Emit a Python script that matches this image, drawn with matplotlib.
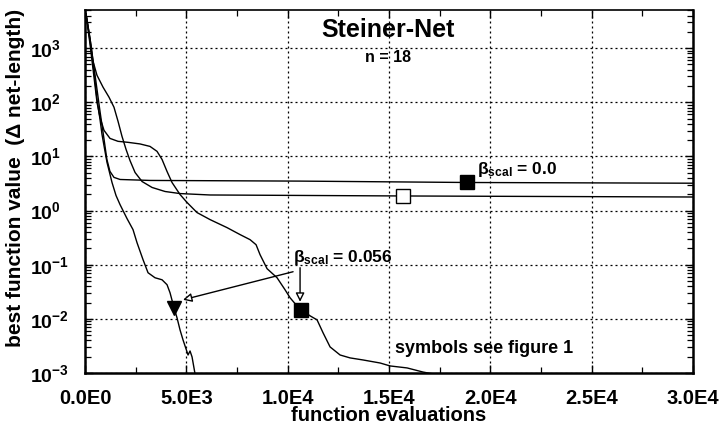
import matplotlib
matplotlib.use("Agg")
import matplotlib.pyplot as plt
from matplotlib.ticker import FixedLocator, FixedFormatter, LogLocator, NullFormatter

plt.rcParams['font.family'] = ['Liberation Sans', 'DejaVu Sans']
plt.rcParams['font.weight'] = 'bold'
plt.rcParams['mathtext.fontset'] = 'custom'
plt.rcParams['mathtext.rm'] = 'Liberation Sans:bold'
plt.rcParams['mathtext.bf'] = 'Liberation Sans:bold'
plt.rcParams['mathtext.it'] = 'Liberation Sans:bold'
plt.rcParams['mathtext.default'] = 'rm'

# ---------------- data ----------------
# curve with plateau ~3.5 (beta_scal = 0.0, filled square)
c1_x = [50, 250, 490, 740, 940, 1080, 1230, 1430, 1730, 3210, 10610, 18850, 30000]
c1_y = [4270, 1480, 330, 68, 20.6, 8.8, 5.3, 4.1, 3.75, 3.6, 3.5, 3.3, 3.2]

# curve with plateau ~2 (open square)
c2_x = [50, 250, 395, 590, 890, 1185, 1430, 1630, 1825, 2025, 2220, 2470, 2815,
        3310, 3950, 4690, 6170, 15700, 30000]
c2_y = [4270, 1480, 575, 316, 190, 124, 81, 44.5, 23.5, 13.5, 8.4, 5.05, 3.44,
        2.67, 2.25, 2.06, 1.94, 1.86, 1.78]

# curve with intermediate plateau ~15 (beta_scal = 0.056, filled square)
c3_x = [49, 247, 444, 592, 740, 938, 1234, 1629, 2122, 2715, 3208, 3554, 3801,
        4048, 4294, 4689, 5035, 5528, 6170, 7009, 7651, 8145, 8441, 8638, 8984,
        9477, 9872, 10119, 10415, 10662, 11106, 11451, 11748, 12093, 12587,
        13080, 13722, 14561, 15055, 15894, 16684, 17177]
c3_y = [4270, 1186, 290, 100, 52.7, 30.3, 21.5, 19.0, 18.2, 17.0, 15.3, 12.4, 8.8,
        5.27, 3.30, 1.98, 1.41, 0.918, 0.681, 0.484, 0.36, 0.29, 0.234, 0.153,
        0.0844, 0.0574, 0.0344, 0.0245, 0.01815, 0.01468, 0.01137, 0.00957,
        0.00551, 0.00303, 0.00215, 0.0019, 0.00174, 0.00153, 0.00135, 0.00124,
        0.00104, 0.00096]

# fastest curve (beta_scal = 0.056, filled triangle)
c4_x = [49, 247, 444, 592, 740, 839, 987, 1086, 1185, 1333, 1530, 1728, 1925,
        2073, 2369, 2567, 2863, 3110, 3455, 3801, 4048, 4196, 4393, 4541, 4689,
        4837, 5035, 5084, 5183, 5282, 5430]
c4_y = [4270, 1349, 375, 114, 48.4, 25.5, 12.4, 7.74, 5.51, 3.30, 1.90, 1.29,
        0.918, 0.711, 0.445, 0.255, 0.124, 0.0711, 0.0574, 0.0527, 0.0427,
        0.0303, 0.016, 0.01045, 0.00625, 0.00408, 0.00245, 0.00215, 0.00255,
        0.00198, 0.00096]

# markers
sq_filled_x = [18850, 10662]
sq_filled_y = [3.3, 0.01468]
sq_open_x = [15700]
sq_open_y = [1.86]
tri_x = [4393]
tri_y = [0.016]

xticks = [0, 5000, 10000, 15000, 20000, 25000, 30000]
xtick_labels = ["0.0E0", "5.0E3", "1.0E4", "1.5E4", "2.0E4", "2.5E4", "3.0E4"]
xminor = [2500, 7500, 12500, 17500, 22500, 27500]
yticks = [1e-3, 1e-2, 1e-1, 1e0, 1e1, 1e2, 1e3]
ytick_labels = [r"$10^{-3}$", r"$10^{-2}$", r"$10^{-1}$", r"$10^{0}$",
                r"$10^{1}$", r"$10^{2}$", r"$10^{3}$"]

# ---------------- figure ----------------
fig = plt.figure(figsize=(7.21, 4.28), dpi=100)
ax = fig.add_axes([85/721, 1-373/428, (693-85)/721, (373-10)/428])
ax.set_yscale('log')
ax.set_xlim(0, 30000)
ax.set_ylim(1e-3, 5060)

for xs, ys in [(c1_x, c1_y), (c2_x, c2_y), (c3_x, c3_y), (c4_x, c4_y)]:
    ax.plot(xs, ys, color='black', lw=1.0, solid_joinstyle='round', zorder=3)

ax.plot(sq_filled_x, sq_filled_y, ls='none', marker='s', ms=9.5, mfc='black',
        mec='black', zorder=5)
ax.plot(sq_open_x, sq_open_y, ls='none', marker='s', ms=9.5, mfc='white',
        mec='black', mew=1.0, zorder=5)
ax.plot(tri_x, tri_y, ls='none', marker='v', ms=10, mfc='black', mec='black',
        zorder=5)

# ticks
ax.xaxis.set_major_locator(FixedLocator(xticks))
ax.xaxis.set_major_formatter(FixedFormatter(xtick_labels))
ax.xaxis.set_minor_locator(FixedLocator(xminor))
ax.yaxis.set_major_locator(FixedLocator(yticks))
ax.yaxis.set_major_formatter(FixedFormatter(ytick_labels))
ax.yaxis.set_minor_locator(LogLocator(base=10, subs=range(2, 10), numticks=20))
ax.yaxis.set_minor_formatter(NullFormatter())

ax.tick_params(which='both', direction='in', top=True, right=True, color='black')
ax.tick_params(which='major', length=6, width=1.0)
ax.tick_params(which='minor', length=4, width=0.9)
ax.tick_params(axis='x', which='major', pad=11.8, labelsize=14.5)
ax.tick_params(axis='y', which='major', pad=39.5, labelsize=14)
for lab in ax.get_yticklabels():
    lab.set_horizontalalignment('left')
for lab in ax.get_xticklabels() + ax.get_yticklabels():
    lab.set_fontweight('bold')

for s in ['left', 'bottom', 'right']:
    ax.spines[s].set_linewidth(1.8)
ax.spines['top'].set_linewidth(1.2)

ax.grid(True, which='major', color='black', lw=0.9, ls=(0, (1.6, 2.4)))
ax.set_axisbelow(True)

# texts
ax.text(14956, 1600, "Steiner-Net", ha='center', va='baseline', fontsize=18,
        fontweight='bold')
ax.text(14956, 550, "n = 18", ha='center', va='baseline', fontsize=11.5,
        fontweight='bold')
ax.text(19350, 4.64, r"$\beta_{scal}$ = 0.0", ha='left', va='baseline',
        fontsize=12.5, fontweight='bold')
ax.text(10267, 0.1137, r"$\beta_{scal}$ = 0.056", ha='left', va='baseline',
        fontsize=12.5, fontweight='bold')
ax.text(15302, 0.00235, "symbols see figure 1", ha='left', va='baseline',
        fontsize=13, fontweight='bold')

arrow = dict(arrowstyle='-|>', fc='white', ec='black', lw=1.0,
             mutation_scale=13, shrinkA=0, shrinkB=0)
ax.annotate("", xy=(10612, 0.0207), xytext=(10612, 0.088), arrowprops=arrow)
ax.annotate("", xy=(4837, 0.0225), xytext=(10267, 0.0742), arrowprops=arrow)

fig.text(16/721, 1-178/428, "best function value  (\u0394 net-length)",
         rotation=90, ha='center', va='center', fontsize=15, fontweight='bold')
fig.text(389/721, 1-421/428, "function evaluations", ha='center', va='baseline',
         fontsize=14.5, fontweight='bold')

fig.savefig("out.png", dpi=100)
